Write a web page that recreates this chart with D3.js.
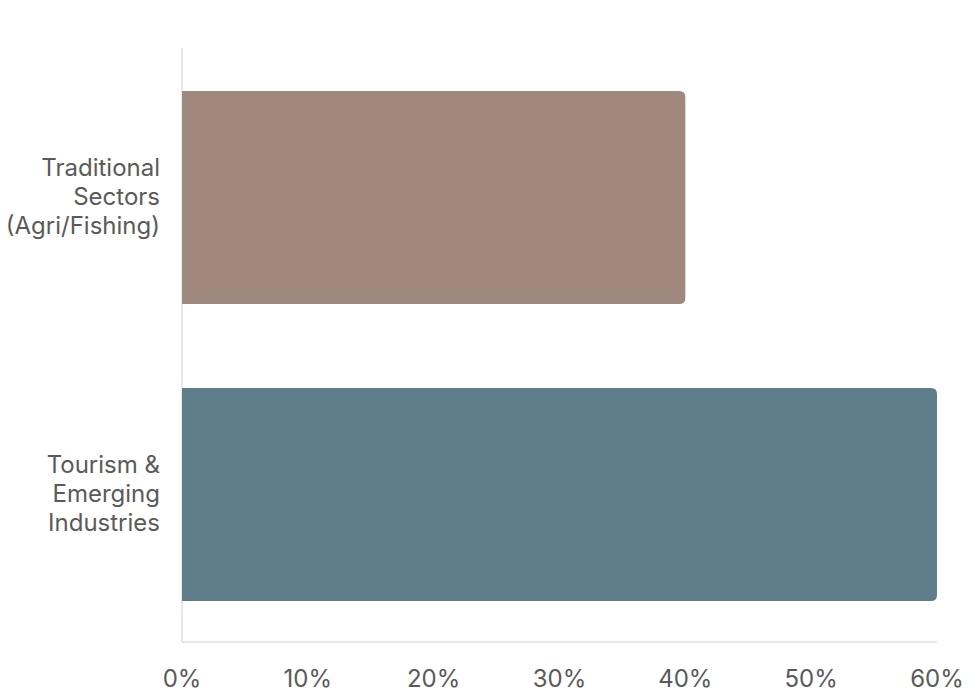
<!DOCTYPE html>
<html><head><meta charset="utf-8">
<script src="https://cdn.jsdelivr.net/npm/d3@7"></script>
<style>body{margin:0;background:#fff;}svg{display:block;font-family:Inter,"Noto Sans",sans-serif;}</style>
</head><body><svg id="c" width="971" height="700"></svg>
<script>
const categories = [["Traditional","Sectors","(Agri/Fishing)"],["Tourism &","Emerging","Industries"]];
const values = [40, 60];
const colors = ["#a1887f", "#607d8b"];
const ticks = [0,10,20,30,40,50,60];

const svg = d3.select("#c");
const m = {l:182, r:937, t:48, b:642};
const x = d3.scaleLinear().domain([0,60]).range([m.l, m.r]);
const y = d3.scaleBand().domain(d3.range(categories.length)).range([m.t+1, m.b+1]).paddingInner(0.2828).paddingOuter(0.1414);

// axis lines
svg.append("line").attr("x1",m.l).attr("x2",m.l).attr("y1",m.t).attr("y2",m.b).attr("stroke","#e0e0e0").attr("stroke-width",1.5);
svg.append("line").attr("x1",m.l).attr("x2",m.r).attr("y1",m.b).attr("y2",m.b).attr("stroke","#e0e0e0").attr("stroke-width",1.5);

const r = 6;
svg.selectAll("path.bar").data(values).join("path").attr("class","bar")
  .attr("fill",(d,i)=>colors[i])
  .attr("d",(d,i)=>{
    const x0=x(0), x1=x(d), y0=y(i), h=y.bandwidth();
    return `M${x0},${y0}H${x1-r}Q${x1},${y0} ${x1},${y0+r}V${y0+h-r}Q${x1},${y0+h} ${x1-r},${y0+h}H${x0}Z`;
  });

// x tick labels
svg.selectAll("text.tick").data(ticks).join("text").attr("class","tick")
  .attr("x",d=>x(d)).attr("y",687).attr("text-anchor","middle")
  .attr("font-size",24).attr("fill","#5a5a5a").text(d=>d+"%");

// y labels
categories.forEach((lines,i)=>{
  const cy = y(i)+y.bandwidth()/2 - 1;
  const lh = 29;
  const t = svg.append("text").attr("text-anchor","end").attr("font-size",24).attr("fill","#5a5a5a");
  lines.forEach((ln,j)=>{
    t.append("tspan").attr("x",m.l-22).attr("y",cy+(j-(lines.length-1)/2)*lh).attr("dy","0.35em").text(ln);
  });
});
</script></body></html>
